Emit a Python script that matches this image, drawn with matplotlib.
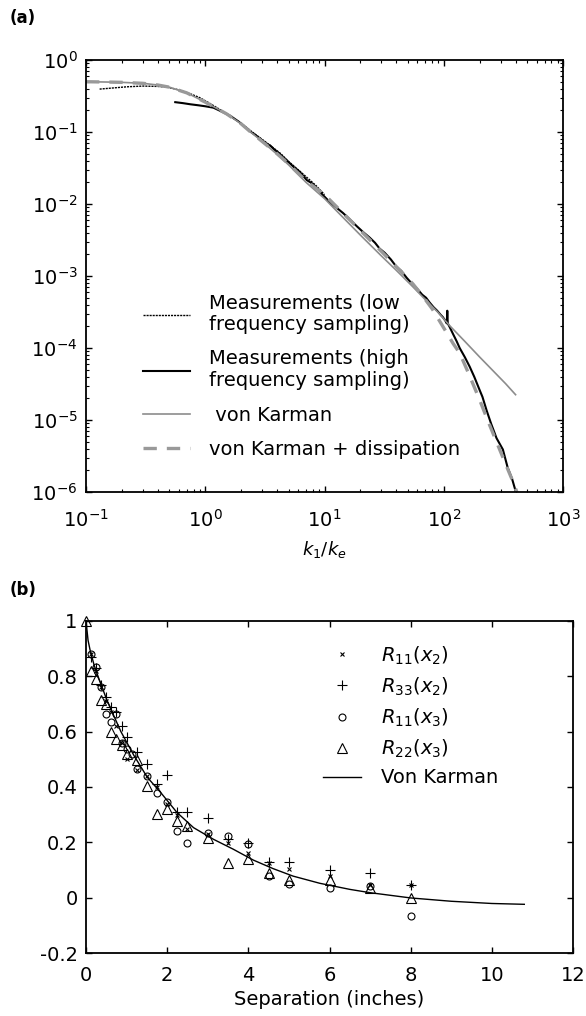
import numpy as np
import matplotlib.pyplot as plt
from matplotlib.ticker import LogLocator, NullFormatter, MultipleLocator, FuncFormatter

plt.rcParams['font.family'] = ['DejaVu Sans']
plt.rcParams['mathtext.fontset'] = 'dejavusans'
plt.rcParams['axes.unicode_minus'] = False

# ---- (a) spectra
k_low = [0.13, 0.17, 0.22, 0.3, 0.4, 0.48, 0.6, 0.75, 0.9, 1.05, 1.3, 1.6, 2.0, 2.5,
         3.0, 3.6, 4.3, 5.0, 6.0, 7.0, 8.5, 10]
E_low = [0.395, 0.41, 0.425, 0.435, 0.43, 0.42, 0.385, 0.34, 0.30, 0.26, 0.21, 0.168,
         0.132, 0.099, 0.079, 0.063, 0.05, 0.039, 0.03, 0.024, 0.018, 0.0135]

k_high = [0.56, 0.65, 0.75, 0.88, 1.0, 1.17, 1.35, 1.62, 1.9, 2.2, 2.4, 2.7, 3.0, 3.3,
          3.5, 3.8, 4.2, 4.6, 5.1, 5.6, 6.2, 7.1, 7.8, 8.6, 9.5, 11.1, 12.5, 14.3, 16,
          18.7, 21, 24, 26.5, 29, 32, 36, 40, 44, 49, 55, 60, 66, 71, 76, 82, 88, 94,
          98, 103, 106, 107, 108, 112, 120, 128, 136, 150, 165, 180, 200, 211, 229,
          250, 277, 313, 343, 375, 410]
E_high = [0.26, 0.252, 0.243, 0.235, 0.228, 0.218, 0.195, 0.168, 0.14, 0.115, 0.101,
          0.088, 0.077, 0.068, 0.065, 0.057, 0.05, 0.043, 0.037, 0.032, 0.028, 0.0215,
          0.0195, 0.0167, 0.0138, 0.0106, 0.0090, 0.0075, 0.0063, 0.0049, 0.0041,
          0.0034, 0.0029, 0.0024, 0.0021, 0.0017, 0.00135, 0.00118, 0.00094, 0.00076,
          0.00066, 0.00055, 0.0005, 0.00043, 0.00037, 0.00033, 0.00029, 0.00027,
          0.00024, 0.00022, 0.00033, 0.00022, 0.000196, 0.000155, 0.000125, 0.0001,
          7.5e-5, 5.5e-5, 4.0e-5, 2.6e-5, 2.1e-5, 1.35e-5, 8.8e-6, 5.6e-6, 3.9e-6,
          2.2e-6, 1.5e-6, 9e-7]

k_vk = [0.1, 0.15, 0.2, 0.3, 0.4, 0.5, 0.7, 1.0, 1.5, 2.0, 2.4, 3.0, 4.0, 5.0, 7.0, 10,
        15, 20, 30, 40, 55, 70, 90, 112, 150, 200, 260, 330, 400]
E_vk = [0.50, 0.495, 0.49, 0.475, 0.45, 0.42, 0.35, 0.26, 0.18, 0.13, 0.10, 0.074, 0.049,
        0.035, 0.020, 0.0119, 0.006, 0.0037, 0.0019, 0.0012, 0.00071, 0.00047, 0.00031,
        0.000205, 0.000124, 7.5e-5, 4.8e-5, 3.2e-5, 2.25e-5]

k_vkd = [0.1, 0.15, 0.2, 0.3, 0.4, 0.5, 0.7, 1.0, 1.5, 2.0, 2.4, 3.0, 4.0, 5.0, 7.0, 10,
         15, 20, 30, 40, 55, 67, 80, 100, 120, 136, 160, 200, 233, 270, 300, 343, 380,
         410, 440]
E_vkd = [0.50, 0.495, 0.49, 0.475, 0.45, 0.42, 0.35, 0.26, 0.18, 0.13, 0.10, 0.074,
         0.050, 0.036, 0.021, 0.0135, 0.0069, 0.0043, 0.0022, 0.00135, 0.00078, 0.00052,
         0.00035, 0.00019, 0.000115, 8.5e-5, 4.6e-5, 1.9e-5, 1.0e-5, 5.5e-6, 3.6e-6,
         2.1e-6, 1.4e-6, 1.0e-6, 7e-7]

# ---- (b) correlations vs separation
sep_r11x2 = [0.125, 0.25, 0.375, 0.5, 0.625, 0.75, 0.875, 1.0, 1.25, 1.5, 1.75, 2.0,
             2.25, 2.5, 3.0, 3.5, 4.0, 4.5, 5.0, 6.0, 7.0, 8.0]
r11x2 = [0.88, 0.82, 0.76, 0.71, 0.67, 0.62, 0.56, 0.50, 0.46, 0.44, 0.40, 0.34, 0.30,
         0.247, 0.23, 0.196, 0.162, 0.125, 0.104, 0.08, 0.045, 0.045]

sep_r33x2 = [0.125, 0.25, 0.375, 0.5, 0.625, 0.75, 0.875, 1.0, 1.25, 1.5, 1.75, 2.0,
             2.25, 2.5, 3.0, 3.5, 4.0, 4.5, 5.0, 6.0, 7.0, 8.0]
r33x2 = [0.87, 0.83, 0.768, 0.726, 0.69, 0.672, 0.62, 0.58, 0.526, 0.484, 0.411, 0.444,
         0.308, 0.308, 0.287, 0.211, 0.199, 0.128, 0.128, 0.10, 0.09, 0.045]

sep_r11x3 = [0.125, 0.25, 0.375, 0.5, 0.625, 0.75, 0.875, 1.0, 1.125, 1.25, 1.5, 1.75,
             2.0, 2.25, 2.5, 3.0, 3.5, 4.0, 4.5, 5.0, 6.0, 7.0, 8.0]
r11x3 = [0.88, 0.835, 0.76, 0.665, 0.635, 0.665, 0.56, 0.538, 0.52, 0.465, 0.441, 0.38,
         0.344, 0.241, 0.196, 0.233, 0.223, 0.193, 0.078, 0.051, 0.035, 0.041, -0.066]

sep_r22x3 = [0.0, 0.125, 0.25, 0.375, 0.5, 0.625, 0.75, 0.875, 1.0, 1.25, 1.5, 1.75,
             2.0, 2.25, 2.5, 3.0, 3.5, 4.0, 4.5, 5.0, 6.0, 7.0, 8.0]
r22x3 = [1.0, 0.82, 0.79, 0.714, 0.70, 0.60, 0.575, 0.55, 0.52, 0.496, 0.405, 0.302,
         0.32, 0.277, 0.259, 0.217, 0.126, 0.138, 0.09, 0.065, 0.065, 0.035, 0.0]

sep_vk = [0, 0.05, 0.1, 0.2, 0.33, 0.53, 0.86, 1.18, 1.51, 1.84, 2.24, 2.65, 3.14, 3.63,
          4.12, 4.61, 5.1, 5.76, 6.5, 7.0, 8.0, 9.0, 10.0, 10.8]
r_vk = [1.0, 0.93, 0.895, 0.84, 0.786, 0.708, 0.6, 0.514, 0.435, 0.38, 0.308, 0.253,
        0.211, 0.175, 0.136, 0.105, 0.078, 0.052, 0.03, 0.018, -0.001, -0.013, -0.021,
        -0.024]

fig = plt.figure(figsize=(5.86, 10.16), dpi=100)
ax1 = fig.add_axes([0.1468, 0.5157, 0.814, 0.4252])
ax2 = fig.add_axes([0.1468, 0.062, 0.831, 0.3268])

grey = '#8c8c8c'
ax1.plot(k_low, E_low, color='black', lw=1.0, ls=(0, (1.5, 0.7)),
         label='Measurements (low\nfrequency sampling)')
ax1.plot(k_high, E_high, color='black', lw=1.5,
         label='Measurements (high\nfrequency sampling)')
ax1.plot(k_vk, E_vk, color=grey, lw=1.2, label=' von Karman')
ax1.plot(k_vkd, E_vkd, color='#999999', lw=2.4, dashes=(4, 3),
         label='von Karman + dissipation')
ax1.set_xscale('log')
ax1.set_yscale('log')
ax1.set_xlim(0.1, 1000)
ax1.set_ylim(1e-6, 1)
ax1.xaxis.set_major_locator(LogLocator(base=10, numticks=10))
ax1.yaxis.set_major_locator(LogLocator(base=10, numticks=10))
ax1.xaxis.set_minor_locator(LogLocator(base=10, subs=np.arange(2, 10), numticks=20))
ax1.yaxis.set_minor_locator(LogLocator(base=10, subs=np.arange(2, 10), numticks=20))
ax1.xaxis.set_minor_formatter(NullFormatter())
ax1.yaxis.set_minor_formatter(NullFormatter())
ax1.set_xlabel(r'$k_1/k_e$', fontsize=13, labelpad=6)
leg1 = ax1.legend(loc='upper left', bbox_to_anchor=(0.1195, 0.46), frameon=False,
                  fontsize=14, handlelength=2.4, handletextpad=1.0, labelspacing=0.78,
                  borderpad=0, borderaxespad=0)

ax2.plot(sep_r11x2, r11x2, ls='none', marker='x', ms=3.5, mew=0.8, color='black',
         label=r'$\mathit{R_{11}(x_2)}$')
ax2.plot(sep_r33x2, r33x2, ls='none', marker='+', ms=6.5, mew=0.8, color='black',
         label=r'$\mathit{R_{33}(x_2)}$')
ax2.plot(sep_r11x3, r11x3, ls='none', marker='o', ms=5, mew=0.8, mfc='none',
         color='black', label=r'$\mathit{R_{11}(x_3)}$')
ax2.plot(sep_r22x3, r22x3, ls='none', marker='^', ms=7, mew=0.8, mfc='none',
         color='black', label=r'$\mathit{R_{22}(x_3)}$', clip_on=False)
ax2.plot(sep_vk, r_vk, color='black', lw=1.0, label='Von Karman')
ax2.set_xlim(0, 12)
ax2.set_ylim(-0.2, 1)
ax2.xaxis.set_major_locator(MultipleLocator(2))
ax2.yaxis.set_major_locator(MultipleLocator(0.2))
ax2.yaxis.set_major_formatter(FuncFormatter(lambda v, p: '%g' % round(v, 1)))
ax2.set_xlabel('Separation (inches)', fontsize=14, labelpad=4)
ax2.legend(loc='upper left', bbox_to_anchor=(0.487, 0.93), frameon=False,
           fontsize=14, handlelength=1.95, handletextpad=1.0, labelspacing=0.45,
           borderpad=0, borderaxespad=0)

for ax in (ax1, ax2):
    for s in ax.spines.values():
        s.set_linewidth(1.3)
    ax.tick_params(which='major', direction='in', top=True, right=True, length=4,
                   width=1.0, labelsize=14, pad=6)
    ax.tick_params(which='minor', direction='in', top=True, right=True, length=2.5,
                   width=0.8)
ax1.tick_params(axis='x', which='major', pad=12)
ax2.tick_params(axis='x', which='major', pad=9)

fig.text(0.017, 0.982, '(a)', fontsize=12, fontweight='bold', ha='left', va='center')
fig.text(0.017, 0.419, '(b)', fontsize=12, fontweight='bold', ha='left', va='center')

fig.savefig('out.png', dpi=100)
